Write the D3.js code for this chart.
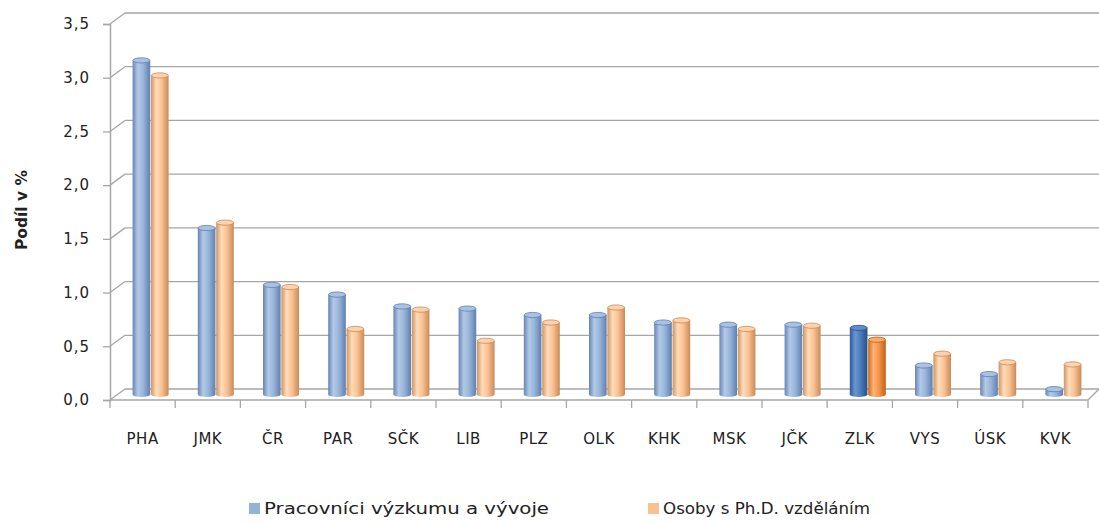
<!DOCTYPE html>
<html lang="cs">
<head>
<meta charset="UTF-8">
<title>Podíl v %</title>
<script src="https://cdn.jsdelivr.net/npm/d3@7"></script>
<style>
  body { margin: 0; background: #fff; }
  text { font-family: "DejaVu Sans", Tahoma, sans-serif; fill: #222; }
</style>
</head>
<body>
<svg width="1099" height="523"></svg>
<script>
// data
var regions = ["PHA","JMK","ČR","PAR","SČK","LIB","PLZ","OLK","KHK","MSK","JČK","ZLK","VYS","ÚSK","KVK"];
var seriesNames = ["Pracovníci výzkumu a vývoje", "Osoby s Ph.D. vzděláním"];
var researchers = [3.11, 1.55, 1.02, 0.93, 0.82, 0.80, 0.74, 0.74, 0.67, 0.65, 0.65, 0.62, 0.27, 0.19, 0.05];
var phd         = [2.97, 1.60, 1.00, 0.61, 0.79, 0.50, 0.67, 0.81, 0.69, 0.61, 0.64, 0.51, 0.38, 0.30, 0.28];
var yTicks = [0, 0.5, 1, 1.5, 2, 2.5, 3, 3.5];
var highlight = "ZLK";

var svg = d3.select("svg");
var depthX = 15, depthY = -11;   // offset of back wall
var barDx = 8, barDy = -5.5;     // bars stand in the middle of the depth

var x = d3.scaleBand().domain(regions).range([110, 1088]).paddingInner(0);
var xs = d3.scaleBand().domain([0, 1]).range([-18, 18]).paddingInner(0.04);
var y = d3.scaleLinear().domain([0, 3.5]).range([400, 24]);

var gridColor = "#a6a6a6";

// back gridlines and diagonals
var grid = svg.append("g");
grid.selectAll(".hl").data(yTicks).enter().append("line")
    .attr("x1", 110 + depthX).attr("x2", 1088 + depthX + 2)
    .attr("y1", function(d){ return y(d) + depthY; })
    .attr("y2", function(d){ return y(d) + depthY; })
    .attr("stroke", gridColor).attr("stroke-width", 1.3);
grid.selectAll(".dg").data(yTicks).enter().append("line")
    .attr("x1", 110).attr("x2", 110 + depthX)
    .attr("y1", function(d){ return y(d); })
    .attr("y2", function(d){ return y(d) + depthY; })
    .attr("stroke", gridColor).attr("stroke-width", 1.3);

// floor front edge and right diagonal
grid.append("line").attr("x1", 110).attr("x2", 1088).attr("y1", y(0)).attr("y2", y(0))
    .attr("stroke", gridColor).attr("stroke-width", 1.3);
grid.append("line").attr("x1", 1088).attr("x2", 1088 + depthX - 4).attr("y1", y(0)).attr("y2", y(0) + depthY)
    .attr("stroke", gridColor).attr("stroke-width", 1.3);

// y axis
var yAxis = d3.axisLeft(y).tickValues(yTicks).tickSize(7).tickPadding(13)
    .tickFormat(function(d){ return d3.format(".1f")(d).replace(".", ","); });
var gy = svg.append("g").attr("transform", "translate(110,0)").call(yAxis);
gy.select(".domain").attr("stroke", gridColor).attr("stroke-width", 1.5);
gy.selectAll(".tick line").attr("stroke", gridColor).attr("stroke-width", 1.3);
gy.selectAll(".tick text").style("font-size", "15px").style("letter-spacing", "1px")
    .attr("fill", "#222");

// x axis
var xAxis = d3.axisBottom(x).tickSize(0).tickPadding(33);
var gx = svg.append("g").attr("transform", "translate(0," + y(0) + ")").call(xAxis);
gx.select(".domain").remove();
gx.selectAll(".tick text").style("font-size", "15px").style("letter-spacing", "0.5px").attr("fill", "#222");
// category separators
svg.append("g").selectAll("line").data(d3.range(regions.length + 1)).enter().append("line")
    .attr("x1", function(i){ return 110 + i * x.step(); })
    .attr("x2", function(i){ return 110 + i * x.step(); })
    .attr("y1", y(0)).attr("y2", y(0) + 8)
    .attr("stroke", gridColor).attr("stroke-width", 1.3);

// gradients for the cylinders
var defs = svg.append("defs");
var palettes = {
  s0: ["#6584b8", "#b3c9e6", "#98b5d9", "#5f7fb2"],
  s1: ["#cf9463", "#ffdcba", "#fbc293", "#c98a58"],
  h0: ["#2d5a96", "#6a97d2", "#4a7dbb", "#284f86"],
  h1: ["#c9681b", "#ffb373", "#f7954a", "#bf6215"]
};
Object.keys(palettes).forEach(function(k){
  var g = defs.append("linearGradient").attr("id", "grad-" + k)
      .attr("x1", "0%").attr("x2", "100%").attr("y1", "0%").attr("y2", "0%");
  var c = palettes[k];
  [[0, c[0]], [0.3, c[1]], [0.6, c[2]], [1, c[3]]].forEach(function(s){
    g.append("stop").attr("offset", (s[0] * 100) + "%").attr("stop-color", s[1]);
  });
});
var topFill = { s0: "#a9c1e2", s1: "#ffd2ad", h0: "#5d8ccb", h1: "#fbab68" };
var topStroke = { s0: "#5f7fb2", s1: "#c98a58", h0: "#284f86", h1: "#b8600f" };

// bars
var bars = [];
regions.forEach(function(r, i){
  [researchers[i], phd[i]].forEach(function(v, s){
    bars.push({ region: r, s: s, v: v, key: (r === highlight ? "h" : "s") + s });
  });
});
var bw = xs.bandwidth();
var ry = 2.6;
var gb = svg.append("g");
var bar = gb.selectAll(".bar").data(bars).enter().append("g").attr("class", "bar")
    .attr("transform", function(d){
      return "translate(" + (x(d.region) + x.bandwidth() / 2 + barDx + xs(d.s)) + "," + barDy + ")";
    });
bar.append("ellipse")
    .attr("cx", bw / 2).attr("cy", y(0)).attr("rx", bw / 2).attr("ry", ry)
    .attr("fill", function(d){ return "url(#grad-" + d.key + ")"; });
bar.append("rect")
    .attr("x", 0).attr("width", bw)
    .attr("y", function(d){ return y(d.v); })
    .attr("height", function(d){ return y(0) - y(d.v); })
    .attr("fill", function(d){ return "url(#grad-" + d.key + ")"; });
bar.append("ellipse")
    .attr("cx", bw / 2).attr("cy", function(d){ return y(d.v); })
    .attr("rx", bw / 2 - 0.3).attr("ry", ry)
    .attr("fill", function(d){ return topFill[d.key]; })
    .attr("stroke", function(d){ return topStroke[d.key]; }).attr("stroke-width", 0.8);

// y axis title
svg.append("text")
    .attr("transform", "translate(27,210) rotate(-90)")
    .attr("text-anchor", "middle")
    .attr("textLength", 80).attr("lengthAdjust", "spacingAndGlyphs")
    .style("font-size", "15px").style("font-weight", "bold").attr("fill", "#000")
    .text("Podíl v %");

// legend
var legendX = [249, 648];
var legendLen = [285, 207];
var lg = svg.append("g").selectAll("g").data(seriesNames).enter().append("g")
    .attr("transform", function(d, i){ return "translate(" + legendX[i] + ",503)"; });
lg.append("rect").attr("width", 11).attr("height", 11)
    .attr("fill", function(d, i){ return i === 0 ? "#95b3d7" : "#fac090"; });
lg.append("text").attr("x", 15).attr("y", 11)
    .attr("textLength", function(d, i){ return legendLen[i]; })
    .attr("lengthAdjust", "spacingAndGlyphs")
    .style("font-size", "16px")
    .text(function(d){ return d; });
</script>
</body>
</html>
